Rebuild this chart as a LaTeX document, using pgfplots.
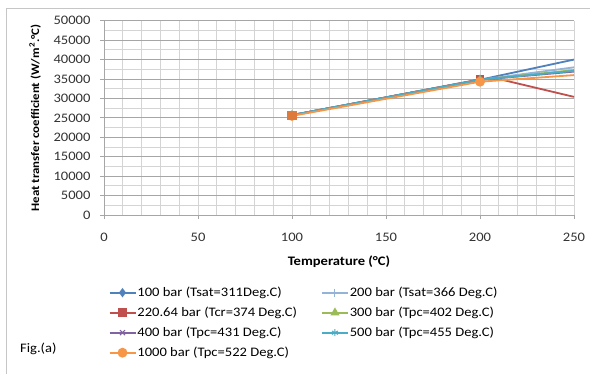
\documentclass[border=0pt]{standalone}
\usepackage{fontspec}
\setmainfont{Carlito}[FakeStretch=1.12]
\usepackage{pgfplots}
\pgfplotsset{compat=1.18}
\definecolor{cA}{HTML}{4F81BD}
\definecolor{cB}{HTML}{95B3D7}
\definecolor{cC}{HTML}{C0504D}
\definecolor{cD}{HTML}{9BBB59}
\definecolor{cE}{HTML}{8064A2}
\definecolor{cF}{HTML}{4BACC6}
\definecolor{cG}{HTML}{F79646}
\definecolor{cSq}{HTML}{DE7A3C}
\definecolor{gmaj}{HTML}{A6A6A6}
\definecolor{gmin}{HTML}{D4D4D4}
\begin{document}
\begin{tikzpicture}
\useasboundingbox (0,0) rectangle (595bp,374bp);
\fill[white] (0,0) rectangle (595bp,374bp);
\draw[gray!45, line width=0.9bp] (6bp,0) -- (6bp,366bp) -- (590bp,366bp);
\node[anchor=west, font=\fontsize{13bp}{15bp}\selectfont, inner sep=0pt] at (20bp,{374bp-349bp}) {Fig.(a)};
\begin{axis}[
  at={(104bp,159bp)}, anchor=south west,
  scale only axis, width=470bp, height=194.3bp,
  xmin=0, xmax=250, ymin=0, ymax=50000,
  xtick={0,50,...,250}, ytick={0,5000,...,50000},
  minor x tick num=4, minor y tick num=1,
  grid=both,
  major x grid style={gmin, line width=0.8bp},
  minor x grid style={gmin, line width=0.8bp},
  major y grid style={gmaj, line width=0.8bp},
  minor y grid style={gmin, line width=0.8bp},
  axis x line*=bottom, axis y line*=left,
  axis line style={gmaj, line width=0.9bp, -},
  tick align=outside, major tick length=4bp, minor tick length=0pt,
  tick style={gmaj, line width=0.8bp},
  scaled y ticks=false,
  /pgf/number format/assume math mode=true,
  /pgf/number format/1000 sep={},
  ticklabel style={font=\fontsize{13bp}{15bp}\selectfont, text=black!80},
  yticklabel style={xshift=-6bp},
  xticklabel style={yshift=-11bp},
  xlabel={\textbf{Temperature (°C)}},
  ylabel={\textbf{Heat transfer coefficient (W/m\textsuperscript{2}.°C)}},
  xlabel style={font=\fontsize{13bp}{15bp}\selectfont, yshift=-7bp},
  ylabel style={font=\fontsize{11.5bp}{13bp}\selectfont, yshift=6bp},
  legend columns=2,
  legend cell align=left,
  legend style={at={(0.003,-0.35)}, anchor=north west, draw=none, fill=none,
    font=\fontsize{13bp}{15bp}\selectfont,
    nodes={inner sep=1bp, text height=10bp, text depth=3bp},
    row sep=5bp, column sep=0bp,
    /tikz/every even column/.append style={column sep=23bp}},
  legend image code/.code={%
    \draw[mark repeat=2,mark phase=2,#1] plot coordinates {(0bp,0bp) (13bp,0bp) (26bp,0bp)};},
  every axis plot/.append style={line width=1.8bp},
]
% continuation of each series to 250
\addplot[cA, forget plot] coordinates {(200,34800) (250,40000)};
\addplot[cB, forget plot] coordinates {(200,34800) (250,38000)};
\addplot[cC, forget plot] coordinates {(200,34900) (210,35000) (250,30400)};
\addplot[cD, forget plot] coordinates {(200,34800) (250,37300)};
\addplot[cE, forget plot] coordinates {(200,34800) (250,36900)};
\addplot[cF, forget plot] coordinates {(200,34800) (250,37100)};
\addplot[cG, forget plot] coordinates {(200,34300) (250,36000)};
% series with markers
\addplot[cA, mark=diamond*, mark size=3.2bp] coordinates {(100,25700) (200,34800)};
\addlegendentry{100 bar (Tsat=311Deg.C)}
\addplot[cB, mark=+, mark size=4bp, mark options={line width=1bp}] coordinates {(100,25700) (200,34800)};
\addlegendentry{200 bar (Tsat=366 Deg.C)}
\addplot[cC, mark=square*, mark size=3.5bp] coordinates {(100,25700) (200,34900)};
\addlegendentry{220.64 bar (Tcr=374 Deg.C)}
\addplot[cD, mark=triangle*, mark size=3.5bp] coordinates {(100,25700) (200,34800)};
\addlegendentry{300 bar (Tpc=402 Deg.C)}
\addplot[cE, mark=x, mark size=3.5bp, mark options={line width=1bp}] coordinates {(100,25700) (200,34800)};
\addlegendentry{400 bar (Tpc=431 Deg.C)}
\addplot[cF, mark=asterisk, mark size=3.5bp, mark options={line width=1bp}] coordinates {(100,25700) (200,34800)};
\addlegendentry{500 bar (Tpc=455 Deg.C)}
\addplot[cG, mark=*, mark size=4bp] coordinates {(100,25500) (200,34300)};
\addlegendentry{1000 bar (Tpc=522 Deg.C)}
\addplot[only marks, mark=square*, mark size=4bp, cSq, forget plot] coordinates {(100,25600)};
\end{axis}
\end{tikzpicture}
\end{document}
